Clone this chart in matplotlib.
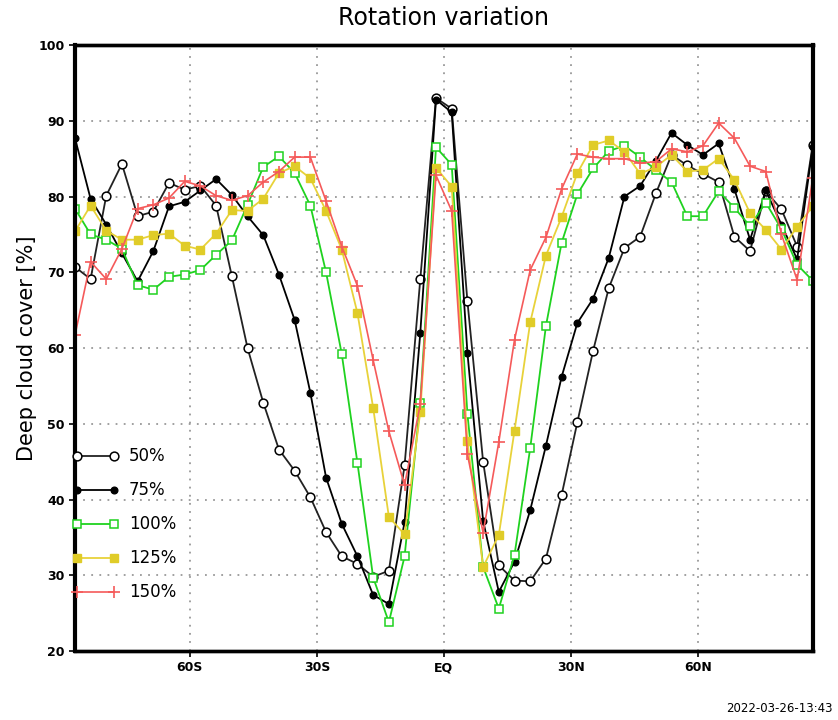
import numpy as np
import matplotlib
matplotlib.use('Agg')
import matplotlib.pyplot as plt

# T31 gaussian latitudes (48 points, south to north)
lat = np.degrees(np.arcsin(np.polynomial.legendre.leggauss(48)[0]))

cc50 = [70.7, 69.1, 80.1, 84.3, 77.4, 78.0, 81.8, 80.9, 81.4, 78.8, 69.5, 60.0,
        52.8, 46.6, 43.8, 40.3, 35.7, 32.5, 31.5, 29.8, 30.6, 44.5, 69.1, 93.0,
        91.6, 66.2, 45.0, 31.3, 29.3, 29.2, 32.2, 40.6, 50.2, 59.6, 67.9, 73.2,
        74.7, 80.4, 85.5, 84.1, 83.0, 81.9, 74.7, 72.8, 80.7, 78.3, 73.4, 86.8]
cc75 = [87.7, 79.7, 76.3, 72.5, 68.8, 72.8, 78.7, 79.3, 80.8, 82.3, 80.2, 77.4,
        74.9, 69.7, 63.7, 54.1, 42.9, 36.8, 32.5, 27.4, 26.2, 37.0, 62.0, 92.8,
        91.1, 59.4, 37.2, 27.8, 31.8, 38.6, 47.1, 56.2, 63.3, 66.5, 71.9, 80.0,
        81.4, 84.7, 88.4, 86.8, 85.5, 87.0, 81.0, 74.3, 80.8, 76.3, 71.7, 86.5]
cc100 = [78.4, 75.0, 74.3, 73.1, 68.3, 67.7, 69.4, 69.7, 70.3, 72.3, 74.2, 78.9,
         83.9, 85.3, 83.1, 78.8, 70.0, 59.2, 44.8, 29.7, 23.8, 32.5, 52.8, 86.5,
         84.2, 51.3, 31.1, 25.6, 32.7, 46.8, 62.9, 73.9, 80.3, 83.7, 86.0, 86.7,
         85.2, 83.5, 81.9, 77.4, 77.4, 80.7, 78.5, 76.1, 79.2, 75.7, 71.0, 68.9]
cc125 = [75.4, 78.8, 75.5, 74.3, 74.3, 74.9, 75.1, 73.5, 73.0, 75.1, 78.2, 78.1,
         79.7, 83.1, 84.0, 82.4, 78.1, 73.0, 64.6, 52.1, 37.7, 35.4, 51.6, 83.8,
         81.3, 47.7, 31.1, 35.3, 49.1, 63.4, 72.2, 77.3, 83.1, 86.8, 87.4, 85.9,
         83.0, 83.9, 85.5, 83.3, 83.5, 85.0, 82.2, 77.8, 75.6, 73.0, 76.0, 78.7]
cc150 = [61.7, 71.4, 69.1, 73.1, 78.4, 78.9, 79.8, 82.0, 81.4, 80.1, 79.5, 80.1,
         81.9, 83.3, 85.2, 85.2, 79.4, 73.4, 68.2, 58.4, 49.0, 41.9, 52.6, 82.8,
         78.1, 46.0, 35.6, 47.6, 61.1, 70.3, 74.6, 81.0, 85.6, 85.2, 85.0, 85.0,
         84.4, 84.6, 86.3, 85.9, 86.7, 89.7, 87.7, 84.0, 83.3, 75.0, 69.0, 82.4]

labels = ['50%', '75%', '100%', '125%', '150%']
xticks = [-60, -30, 0, 30, 60]
xticklabels = ['60S', '30S', 'EQ', '30N', '60N']

fig = plt.figure(figsize=(8.38, 7.2), dpi=100)
ax = fig.add_axes([0.0895, 0.0958, 0.8803, 0.8417])

ax.plot(lat, cc50, color='#222222', lw=1.3, marker='o', ms=6.3, mfc='white',
        mec='black', mew=1.1, label=labels[0])
ax.plot(lat, cc75, color='black', lw=1.3, marker='o', ms=4.8, mfc='black',
        mec='black', label=labels[1])
ax.plot(lat, cc100, color='#1fd21f', lw=1.3, marker='s', ms=6, mfc='white',
        mec='#1fd21f', mew=1.1, label=labels[2])
ax.plot(lat, cc125, color='#e8d23a', lw=1.3, marker='s', ms=5.6, mfc='#e0cc28',
        mec='#e0cc28', label=labels[3])
ax.plot(lat, cc150, color='#f55a5a', lw=1.2, marker='+', ms=8, mew=1.2,
        label=labels[4])

ax.set_xlim(lat[0], lat[-1])
ax.set_ylim(20, 100)
ax.set_xticks(xticks)
ax.set_xticklabels(xticklabels, fontsize=9, fontweight='bold')
ax.set_yticks(range(20, 101, 10))
ax.set_yticklabels([str(v) for v in range(20, 101, 10)], fontsize=9, fontweight='bold')
ax.tick_params(length=4, width=1.2, direction='out')
ax.grid(color='0.6', linestyle=(0, (1, 3.5)), lw=1.3)

for s in ['left', 'right']:
    ax.spines[s].set_linewidth(3)
for s in ['top', 'bottom']:
    ax.spines[s].set_linewidth(2.5)
    ax.spines[s].set_linestyle((0, (3, 1)))
ax.axhline(100, color='0.55', lw=2.5, clip_on=False, zorder=0.5)
ax.axhline(20, color='0.55', lw=2.5, clip_on=False, zorder=0.5)

leg = ax.legend(loc='upper left', bbox_to_anchor=(-0.004, 0.336), frameon=False,
                numpoints=2, handlelength=2.8, handletextpad=0.6,
                labelspacing=0.96, borderpad=0, borderaxespad=0, fontsize=12)

ax.set_ylabel('Deep cloud cover [%]', fontsize=15, labelpad=1)
fig.text(0.529, 0.975, 'Rotation variation', ha='center', va='center', fontsize=17)
fig.text(0.994, 0.016, '2022-03-26-13:43', ha='right', va='center', fontsize=8.5)

fig.savefig('out.png', dpi=100)
